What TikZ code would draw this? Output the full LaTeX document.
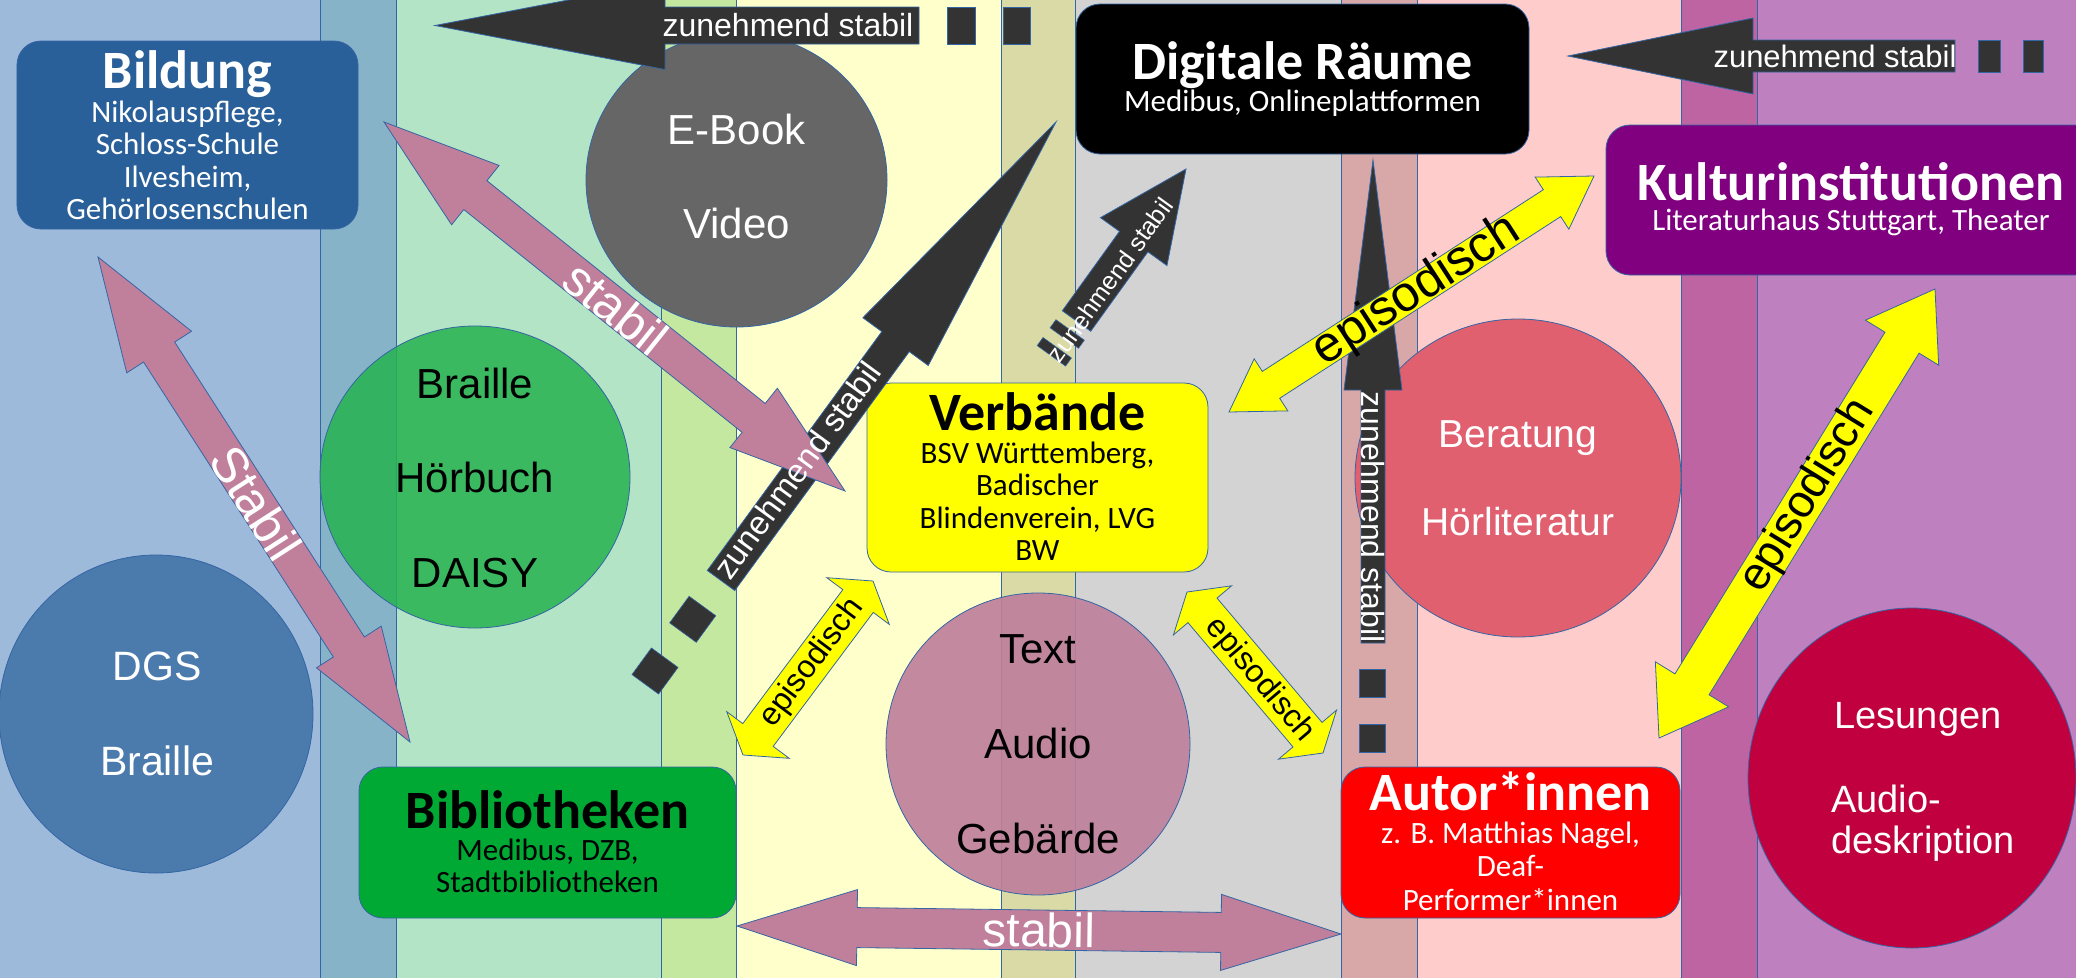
\documentclass[tikz,border=0pt]{standalone}
\usepackage{fontspec}
\setmainfont{Carlito}
\newfontfamily\arialf{Liberation Sans}
\usetikzlibrary{calc,shapes.geometric}

\definecolor{bandA}{HTML}{9DBADB}
\definecolor{bandAB}{HTML}{87B3C9}
\definecolor{bandB}{HTML}{B3E4C5}
\definecolor{bandBC}{HTML}{C5E8A1}
\definecolor{bandC}{HTML}{FFFFCC}
\definecolor{bandCD}{HTML}{DADAA7}
\definecolor{bandD}{HTML}{D3D3D3}
\definecolor{bandDE}{HTML}{D8A8A8}
\definecolor{bandE}{HTML}{FFCCCC}
\definecolor{bandEF}{HTML}{BF64A2}
\definecolor{bandF}{HTML}{BF80BF}
\definecolor{edge}{HTML}{3465A4}
\definecolor{darkarr}{HTML}{333333}
\definecolor{pinkarr}{HTML}{C0809B}
\definecolor{yelarr}{HTML}{FFFF00}
\definecolor{colBild}{HTML}{2A6099}
\definecolor{colKult}{HTML}{800080}
\definecolor{colVerb}{HTML}{FFFF00}
\definecolor{colBib}{HTML}{00A933}
\definecolor{colAut}{HTML}{FF0000}
\definecolor{colDGS}{HTML}{4B7AAC}
\definecolor{colBrl}{HTML}{25B250}
\definecolor{colEB}{HTML}{666666}
\definecolor{colTxt}{HTML}{BE819C}
\definecolor{colBer}{HTML}{E06070}
\definecolor{colLes}{HTML}{C0003F}

\newcommand\lines[1]{\begin{tabular}[t]{@{}c@{}}#1\end{tabular}}
\newcommand\llines[1]{\begin{tabular}[t]{@{}l@{}}#1\end{tabular}}

% double block arrow between named coordinates #1 and #2
\newcommand\dblarrow[6]{%
  \coordinate (hbA) at ($(#1)!#5bp!(#2)$);
  \coordinate (hbB) at ($(#2)!#5bp!(#1)$);
  \filldraw[#6] (#1) -- ($(hbA)!#4bp!90:(#2)$) -- ($(hbA)!#3bp!90:(#2)$)
    -- ($(hbB)!#3bp!-90:(#1)$) -- ($(hbB)!#4bp!-90:(#1)$) -- (#2)
    -- ($(hbB)!#4bp!90:(#1)$) -- ($(hbB)!#3bp!90:(#1)$)
    -- ($(hbA)!#3bp!-90:(#2)$) -- ($(hbA)!#4bp!-90:(#2)$) -- cycle;}
% single block arrow from tail #1 to tip #2
\newcommand\sglarrow[6]{%
  \coordinate (hbB) at ($(#2)!#5bp!(#1)$);
  \filldraw[#6] ($(#1)!#3bp!90:(#2)$) -- ($(hbB)!#3bp!-90:(#1)$)
    -- ($(hbB)!#4bp!-90:(#1)$) -- (#2) -- ($(hbB)!#4bp!90:(#1)$)
    -- ($(hbB)!#3bp!90:(#1)$) -- ($(#1)!#3bp!-90:(#2)$) -- cycle;}

\tikzset{
  darkA/.style={fill=darkarr, draw=edge, line width=0.8pt},
  pinkA/.style={fill=pinkarr, draw=edge, line width=0.8pt},
  yelA/.style={fill=yelarr, draw=edge, line width=0.8pt},
  dsq/.style={rectangle, fill=darkarr, draw=edge, line width=0.6pt, inner sep=0pt},
  rbox/.style={rectangle, rounded corners=24bp, draw=edge, line width=0.8pt, inner sep=0pt},
  circ/.style={ellipse, draw=edge, line width=0.8pt, inner sep=0pt},
  ttl/.style={font=\fontsize{54bp}{60bp}\selectfont\bfseries, anchor=base, inner sep=0pt},
  sub/.style={font=\fontsize{31bp}{32.5bp}\selectfont, anchor=base, inner sep=0pt},
  ctx/.style={font=\arialf\fontsize{42bp}{94.5bp}\selectfont, anchor=base, inner sep=0pt},
  atx/.style={inner sep=0pt, anchor=center},
}

\begin{document}
\begin{tikzpicture}[x=1bp, y=-1bp]
\useasboundingbox (0,0) rectangle (2076,978);
\clip (0,0) rectangle (2076,978);

% background bands
\fill[bandA] (0,0) rectangle (320,978);
\fill[bandAB] (320,0) rectangle (396,978);
\fill[bandB] (396,0) rectangle (661,978);
\fill[bandBC] (661,0) rectangle (736,978);
\fill[bandC] (736,0) rectangle (1001,978);
\fill[bandCD] (1001,0) rectangle (1075,978);
\fill[bandD] (1075,0) rectangle (1341,978);
\fill[bandDE] (1341,0) rectangle (1417,978);
\fill[bandE] (1417,0) rectangle (1681,978);
\fill[bandEF] (1681,0) rectangle (1757,978);
\fill[bandF] (1757,0) rectangle (2076,978);
\foreach \xx in {320,396,661,736,1001,1075,1341,1417,1681,1757}
  \draw[edge, line width=0.7pt] (\xx,0) -- (\xx,978);

% circles
\node[circ, fill=colEB, minimum width=301bp, minimum height=294bp] (ebook) at (736.5,180) {};
\node[circ, fill=colBrl, fill opacity=0.85, minimum width=310bp, minimum height=302bp] (braille) at (475,477) {};
\node[circ, fill=colDGS, minimum width=314bp, minimum height=318bp] (dgs) at (156,714) {};
\node[circ, fill=colTxt, fill opacity=0.92, minimum width=304bp, minimum height=302bp] (textc) at (1038,744) {};
\node[circ, fill=colBer, minimum width=326bp, minimum height=318bp] (berat) at (1518,478) {};
\node[circ, fill=colLes, minimum width=328bp, minimum height=340bp] (lesung) at (1912,778) {};

% boxes
\node[rbox, fill=colBild, minimum width=341bp, minimum height=188bp] (bild) at (187.5,135) {};
\node[rbox, fill=black, minimum width=453bp, minimum height=150bp] (digi) at (1302.5,79) {};
\node[rbox, fill=colKult, minimum width=494bp, minimum height=150bp] (kult) at (1853,200) {};
\node[rbox, fill=colVerb, minimum width=341bp, minimum height=189bp] (verb) at (1037.5,477.5) {};
\node[rbox, fill=colBib, minimum width=377bp, minimum height=151bp] (bib) at (547.5,842.5) {};
\node[rbox, fill=colAut, minimum width=339bp, minimum height=151bp] (aut) at (1510.5,842.5) {};

% dark arrows
\coordinate (aAt) at (919,25.5);   \coordinate (aAh) at (435,25.5);
\sglarrow{aAt}{aAh}{18.5}{44}{230}{darkA}
\node[dsq, minimum width=28bp, minimum height=37bp] (sqA1) at (961,25.5) {};
\node[dsq, minimum width=27bp, minimum height=37bp] (sqA2) at (1016.5,25.5) {};

\coordinate (aBt) at (1955,56);    \coordinate (aBh) at (1568,56);
\sglarrow{aBt}{aBh}{16}{38}{185}{darkA}
\node[dsq, minimum width=22bp, minimum height=32bp] (sqB1) at (1989,56) {};
\node[dsq, minimum width=20bp, minimum height=32bp] (sqB2) at (2033,56) {};

\coordinate (aCt) at (721,580.5);  \coordinate (aCh) at (1056,122);
\sglarrow{aCt}{aCh}{17}{40.5}{272}{darkA}
\node[dsq, minimum size=33bp, rotate=53.85] (dC1) at (692.7,619.3) {};
\node[dsq, minimum size=33bp, rotate=53.85] (dC2) at (655,671) {};

\coordinate (aDt) at (1076.5,321); \coordinate (aDh) at (1186,169);
\sglarrow{aDt}{aDh}{17.5}{41}{89.5}{darkA}
\node[dsq, minimum width=10bp, minimum height=35bp, rotate=54.2] (dD1) at (1067.2,334) {};
\node[dsq, minimum width=10bp, minimum height=35bp, rotate=54.2] (dD2) at (1054.3,351.8) {};

\coordinate (aEt) at (1373,643);   \coordinate (aEh) at (1373,160);
\sglarrow{aEt}{aEh}{12}{29}{230}{darkA}
\node[dsq, minimum width=26bp, minimum height=28bp] (sqE1) at (1372,683) {};
\node[dsq, minimum width=26bp, minimum height=28bp] (sqE2) at (1372,738) {};

% pink arrows
\coordinate (pF1) at (98,257);   \coordinate (pF2) at (410,742);
\dblarrow{pF1}{pF2}{18.5}{38.5}{113}{pinkA}
\coordinate (pG1) at (384,122);  \coordinate (pG2) at (845,491);
\dblarrow{pG1}{pG2}{18.5}{38}{117}{pinkA}
\coordinate (pH1) at (737,926);  \coordinate (pH2) at (1341,934);
\dblarrow{pH1}{pH2}{20}{38}{120}{pinkA}

% yellow arrows
\coordinate (yI1) at (1229,412); \coordinate (yI2) at (1594,176);
\dblarrow{yI1}{yI2}{16}{31}{50}{yelA}
\coordinate (yJ1) at (1659,738); \coordinate (yJ2) at (1935,289);
\dblarrow{yJ1}{yJ2}{20}{43}{63}{yelA}
\coordinate (yK1) at (743,755);  \coordinate (yK2) at (873,581);
\dblarrow{yK1}{yK2}{19}{39}{25}{yelA}
\coordinate (yL1) at (1187,592); \coordinate (yL2) at (1323,753);
\dblarrow{yL1}{yL2}{19}{38}{24}{yelA}

% box texts
\node[ttl, white] (bildT) at (187.5,88) {Bildung};
\node[sub, white] (bildS) at (187.5,122) {\lines{Nikolauspflege,\\Schloss-Schule\\Ilvesheim,\\Gehörlosenschulen}};
\node[ttl, white] (digiT) at (1302.5,79) {Digitale Räume};
\node[sub, white] (digiS) at (1302.5,111) {Medibus, Onlineplattformen};
\node[ttl, white] (kultT) at (1851,200) {Kulturinstitutionen};
\node[sub, white] (kultS) at (1851,230) {Literaturhaus Stuttgart, Theater};
\node[ttl, black] (verbT) at (1037.5,430) {Verbände};
\node[sub, black] (verbS) at (1037.5,463) {\lines{BSV Württemberg,\\Badischer\\Blindenverein, LVG\\BW}};
\node[ttl, black] (bibT) at (547.5,828) {Bibliotheken};
\node[sub, black] (bibS) at (547.5,860) {\lines{Medibus, DZB,\\Stadtbibliotheken}};
\node[ttl, white] (autT) at (1510.5,810) {Autor*innen};
\node[sub, white, font=\fontsize{31bp}{33.5bp}\selectfont] (autS) at (1510.5,843) {\lines{z. B. Matthias Nagel,\\Deaf-\\Performer*innen}};

% circle texts
\node[ctx, white] (ebookT) at (736.5,144) {\lines{E-Book\\Video}};
\node[ctx, black] (brailleT) at (475,398) {\lines{Braille\\Hörbuch\\DAISY}};
\node[ctx, white, font=\arialf\fontsize{41bp}{95bp}\selectfont] (dgsT) at (157,680) {\lines{DGS\\Braille}};
\node[ctx, black, font=\arialf\fontsize{42bp}{95bp}\selectfont] (textT) at (1038,663) {\lines{Text\\Audio\\Gebärde}};
\node[ctx, white, font=\arialf\fontsize{39bp}{88bp}\selectfont] (beratT) at (1518,447) {\lines{Beratung\\Hörliteratur}};
\node[ctx, white, font=\arialf\fontsize{38bp}{41bp}\selectfont] (lesT) at (1918,728) {Lesungen};
\node[ctx, white, font=\arialf\fontsize{38bp}{41bp}\selectfont, anchor=base west] (adT) at (1831,812) {\llines{Audio-\\deskription}};

% arrow texts
\node[atx, white, font=\arialf\fontsize{32bp}{32bp}\selectfont] (tA) at (788,25.5) {zunehmend stabil};
\node[atx, white, font=\arialf\fontsize{31bp}{31bp}\selectfont] (tB) at (1835,56) {zunehmend stabil};
\node[atx, white, font=\arialf\fontsize{33bp}{33bp}\selectfont, rotate=53.85] (tC) at (797,470) {zunehmend stabil};
\node[atx, white, font=\arialf\fontsize{25bp}{25bp}\selectfont, rotate=54.2] (tD) at (1110,280) {zunehmend stabil};
\node[atx, white, font=\arialf\fontsize{32bp}{32bp}\selectfont, rotate=-90] (tE) at (1373,517) {zunehmend stabil};
\node[atx, white, font=\arialf\fontsize{50bp}{50bp}\selectfont, rotate=-57.25] (tF) at (256,503) {Stabil};
\node[atx, white, font=\arialf\fontsize{50bp}{50bp}\selectfont, rotate=-38.67] (tG) at (616,308) {stabil};
\node[atx, white, font=\arialf\fontsize{48bp}{48bp}\selectfont, rotate=-0.76] (tH) at (1039,930) {stabil};
\node[atx, black, font=\arialf\fontsize{50bp}{50bp}\selectfont, rotate=32.9] (tI) at (1417,291) {episodisch};
\node[atx, black, font=\arialf\fontsize{46bp}{46bp}\selectfont, rotate=58.4] (tJ) at (1808,496) {episodisch};
\node[atx, black, font=\arialf\fontsize{32bp}{32bp}\selectfont, rotate=53.2] (tK) at (812,663) {episodisch};
\node[atx, black, font=\arialf\fontsize{32bp}{32bp}\selectfont, rotate=-49.8] (tL) at (1260,680) {episodisch};
\end{tikzpicture}
\end{document}
